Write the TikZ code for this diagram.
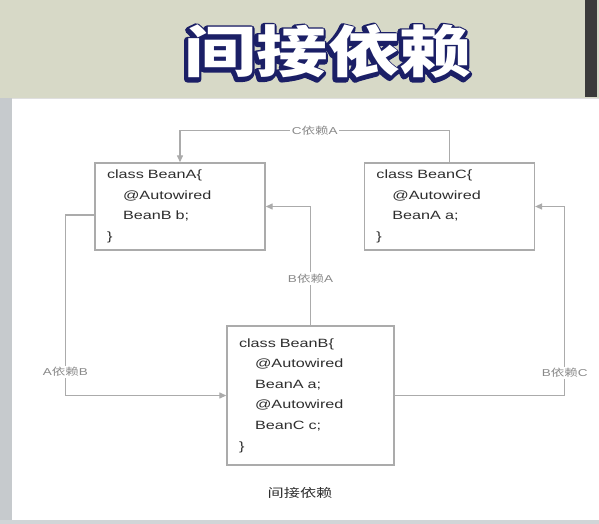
\documentclass[tikz,border=0pt]{standalone}
\usepackage{fontspec}
\setmainfont{Liberation Sans}[FakeStretch=1.35]
\newfontfamily\cjk{Noto Sans CJK SC}[FakeStretch=1.35]
\newfontfamily\cjktitle{Noto Sans CJK SC}[FakeStretch=1.28]
\usetikzlibrary{calc,arrows.meta,positioning}

\definecolor{linegray}{HTML}{ABABAB}
\definecolor{labelgray}{HTML}{8A8A8A}
\definecolor{codegray}{HTML}{2E2E2E}
\definecolor{titleink}{HTML}{1B1F66}
\definecolor{wallbeige}{HTML}{D7D9C7}
\definecolor{sidegray}{HTML}{C6CACD}
\definecolor{darkbar}{HTML}{3A3A3A}

% glyphs filled and stroked in the current colour (#1 = stroke width)
\newcommand\thickglyphs[2]{\special{pdf:literal direct 2 Tr #1 w 1 j}#2\special{pdf:literal direct 0 Tr 1 w}}
% white title letters on a dark edge that is pushed down-left as a shadow
\newcommand\titleword[1]{{\color{titleink}%
  \rlap{\kern-1.6pt\raisebox{-1.6pt}{\thickglyphs{6.5}{#1}}}}#1}

\tikzset{
  bean/.style={draw=linegray, line width=1.4pt, fill=white, text=codegray,
    align=left, inner xsep=12pt, inner ysep=0pt,
    font=\fontsize{12}{20.6}\selectfont},
  link/.style={draw=linegray, line width=1.3pt, -{Triangle[length=7pt,width=6pt]}},
  dep/.style={fill=white, text=labelgray, inner sep=1.5pt,
    font=\fontsize{10}{12}\selectfont},
  titletext/.style={text=white, font=\cjktitle\bfseries\fontsize{56}{58}\selectfont, inner sep=0pt}
}

\begin{document}
\begin{tikzpicture}[x=1pt,y=-1pt]
  \useasboundingbox (0,0) rectangle (599,524);

  % screen around the slide
  \fill[wallbeige] (0,0) rectangle (599,98);
  \fill[darkbar] (585,0) rectangle (597,97);
  \fill[sidegray] (0,98) rectangle (12,524);
  \fill[white] (12,98) rectangle (599,520);
  \fill[sidegray!80] (0,520) rectangle (599,524);
  \draw[gray!25, line width=1pt] (12,98.5) -- (599,98.5);

  \node[titletext] (title) at (328,52) {\titleword{间接依赖}};

  % the three beans
  \node[bean, text width=146pt, minimum height=87pt] (A) at (180,206.5)
    {class BeanA\{\\\hspace*{16pt}@Autowired\\\hspace*{16pt}BeanB b;\\\}};
  \node[bean, text width=146pt, minimum height=87pt, right=98pt of A] (C)
    {class BeanC\{\\\hspace*{16pt}@Autowired\\\hspace*{16pt}BeanA a;\\\}};
  \node[bean, text width=143pt, minimum height=139pt] (B) at (310.5,395.5)
    {class BeanB\{\\\hspace*{16pt}@Autowired\\\hspace*{16pt}BeanA a;\\
     \hspace*{16pt}@Autowired\\\hspace*{16pt}BeanC c;\\\}};

  % dependencies
  \draw[link] (C.north) -- ++(0,-32)
    -- node[dep]{C{\cjk 依赖}A} ($(A.north)+(0,-32)$) -- (A.north);
  \draw[link] (B.north) |- node[dep, pos=0.197]{B{\cjk 依赖}A} (A.east);
  \draw[link] ([yshift=-8.5pt]A.west) -- ++(-29,0)
    |- node[dep, pos=0.435]{A{\cjk 依赖}B} (B.west);
  \draw[link] (B.east) -- ++(170,0)
    |- node[dep, pos=0.06]{B{\cjk 依赖}C} (C.east);

  \node[text=codegray, font=\cjk\fontsize{12}{14}\selectfont] (cap) at (300,493) {间接依赖};
\end{tikzpicture}
\end{document}
